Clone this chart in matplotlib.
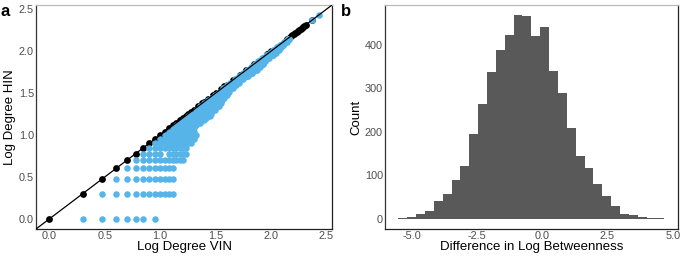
import numpy as np
import matplotlib
matplotlib.use("Agg")
import matplotlib.pyplot as plt

plt.rcParams['font.family'] = ['Liberation Sans', 'DejaVu Sans']

# ---- panel a : degree pairs (HIN <= VIN), plotted as log10 ----
# nodes whose degree is the same in both networks
same_deg = [1, 2, 3, 4, 5, 6, 7, 8, 9, 10, 11, 12, 13, 14, 15, 16, 17, 18, 19, 20,
            22, 24, 25, 27, 30, 32, 35, 38, 40, 45, 52, 60, 70, 92, 95, 100,
            140, 145, 150, 155, 160, 165, 170, 175, 180, 185, 190, 195, 200, 205, 235]

# nodes with lower degree in HIN: for each HIN degree, VIN degree runs lo..hi
row_hin = [1, 2, 3, 4, 5, 6, 7, 8, 9, 10, 11, 12, 13, 14, 15, 16, 17, 18, 20, 22,
           24, 26, 28, 30, 33, 36, 39, 42, 46, 50, 55, 60, 65, 70, 76, 82, 89, 96,
           104, 112, 120, 130, 140, 233, 268]
row_vin_lo = [2, 3, 4, 5, 6, 7, 8, 9, 10, 11, 12, 13, 14, 15, 16, 17, 18, 19, 21, 23,
              25, 27, 29, 31, 34, 37, 40, 43, 47, 51, 56, 61, 66, 71, 77, 83, 90, 97,
              105, 113, 121, 131, 141, 234, 269]
row_vin_hi = [9, 13, 13, 13, 16, 17, 17, 19, 20, 21, 20, 20, 21, 23, 25, 26, 28, 29, 31, 34,
              35, 36, 38, 40, 42, 45, 48, 51, 56, 62, 68, 74, 79, 85, 89, 95, 105, 110,
              117, 123, 129, 138, 146, 234, 269]
missing = [(1, 8), (6, 11)]

# ---- panel b : histogram counts ----
counts = [1, 4, 12, 19, 41, 56, 89, 122, 194, 264, 338, 387, 423, 467, 465,
          420, 440, 340, 289, 209, 145, 116, 80, 53, 30, 11, 8, 4, 1, 1]
bin_left = -5.51
bin_width = 0.3397

# expand degree rows
bx, by = [], []
for h, lo, hi in zip(row_hin, row_vin_lo, row_vin_hi):
    for v in range(lo, hi + 1):
        if (h, v) in missing:
            continue
        bx.append(v)
        by.append(h)
bx = np.log10(bx)
by = np.log10(by)
sd = np.log10(same_deg)

fig = plt.figure(figsize=(6.85, 2.57), dpi=100)
ax1 = fig.add_axes([0.0526, 0.109, 0.4321, 0.8715])
ax2 = fig.add_axes([0.562, 0.109, 0.4273, 0.8715])

blue = '#56B4E9'
ax1.scatter(sd, sd, s=24, color='black', linewidths=0, zorder=2)
ax1.scatter(bx, by, s=22, color=blue, linewidths=0, zorder=3)
lims = (-0.12, 2.55)
ax1.plot(lims, lims, color='black', lw=0.9, zorder=4)
ax1.set_xlim(lims)
ax1.set_ylim(lims)
ax1.set_xticks([0, 0.5, 1.0, 1.5, 2.0, 2.5])
ax1.set_yticks([0, 0.5, 1.0, 1.5, 2.0, 2.5])
ax1.set_xlabel('Log Degree VIN', fontsize=9.5, labelpad=0)
ax1.set_ylabel('Log Degree HIN', fontsize=9.5, labelpad=2)

edges = bin_left + bin_width * np.arange(len(counts) + 1)
ax2.bar(edges[:-1], counts, width=bin_width, align='edge', color='#595959',
        linewidth=0)
ax2.set_xlim(-6.02, 5.19)
ax2.set_ylim(-23.4, 491)
ax2.set_xticks([-5.0, -2.5, 0.0, 2.5, 5.0])
ax2.set_xticklabels(['-5.0', '-2.5', '0.0', '2.5', '5.0'])
ax2.set_yticks([0, 100, 200, 300, 400])
ax2.set_xlabel('Difference in Log Betweenness', fontsize=9.5, labelpad=0)
ax2.set_ylabel('Count', fontsize=9.5, labelpad=2)

for ax in (ax1, ax2):
    ax.tick_params(length=0, labelsize=7.8, colors='#4D4D4D', pad=1.5)
    ax.spines['top'].set_color('#BBBBBB')
    ax.spines['left'].set_color('#333333')
    ax.spines['bottom'].set_color('#222222')
    ax.spines['right'].set_color('#222222')
    for s in ax.spines.values():
        s.set_linewidth(0.9)

fig.text(0.001, 0.985, 'a', fontsize=12, fontweight='bold', va='top')
fig.text(0.498, 0.985, 'b', fontsize=12, fontweight='bold', va='top')

fig.savefig('out.png', dpi=100)
